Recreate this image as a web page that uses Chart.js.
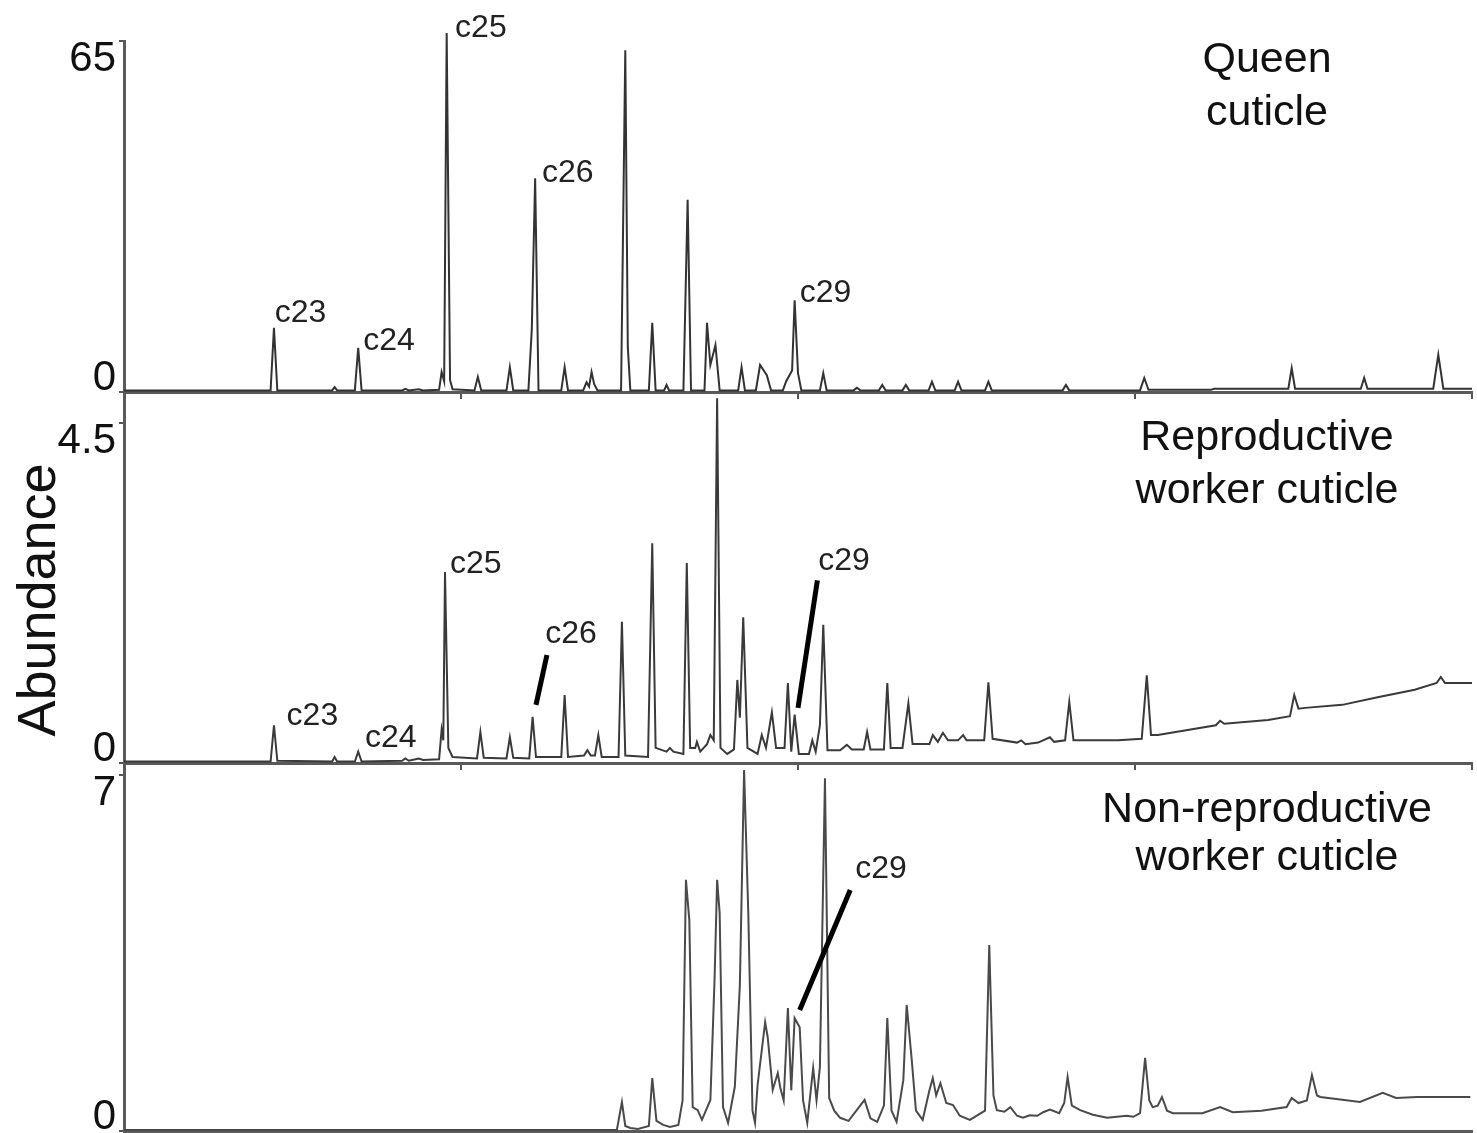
<!DOCTYPE html>
<html>
<head>
<meta charset="utf-8">
<script src="https://cdn.jsdelivr.net/npm/chart.js@4.4.1/dist/chart.umd.min.js"></script>
<style>
  html, body { margin: 0; padding: 0; background: #fff; }
  #fig { position: relative; width: 1477px; height: 1133px; overflow: hidden; background: #fff; }
  #fig canvas { position: absolute; left: 0; }
</style>
</head>
<body>
<div id="fig">
  <canvas id="queen" width="1477" height="402" style="top:0px"></canvas>
  <canvas id="repro" width="1477" height="393" style="top:380px"></canvas>
  <canvas id="nonrepro" width="1477" height="370" style="top:763px"></canvas>
</div>
<script>
// GC traces of cuticular hydrocarbons: [retention time (min), abundance]
const timeTicks = [10, 14, 18, 22, 26];

const queenTicks = [0, 65];
const queenTrace = [
  [10.00, 0.3], [11.74, 0.3], [11.78, 11.9], [11.82, 0.3],
  [12.47, 0.3], [12.50, 0.9], [12.53, 0.3],
  [12.74, 0.3], [12.78, 8.2], [12.82, 0.3],
  [13.30, 0.3], [13.34, 0.6], [13.38, 0.3], [13.50, 0.5], [13.55, 0.3],
  [13.74, 0.4], [13.77, 3.7], [13.80, 2.0], [13.83, 66.5], [13.87, 2.2], [13.90, 0.5],
  [14.16, 0.3], [14.20, 2.8], [14.24, 0.3],
  [14.54, 0.3], [14.58, 4.6], [14.62, 0.3],
  [14.80, 0.3], [14.84, 11.5], [14.88, 39.6], [14.92, 0.3],
  [15.19, 0.3], [15.23, 4.6], [15.27, 0.3],
  [15.45, 0.3], [15.49, 1.8], [15.52, 1.0], [15.55, 3.7], [15.58, 1.5], [15.62, 0.3],
  [15.90, 0.3], [15.95, 63.3], [15.98, 8.3], [16.01, 0.3],
  [16.23, 0.3], [16.27, 12.8], [16.31, 0.3],
  [16.41, 0.3], [16.44, 1.3], [16.47, 0.3],
  [16.64, 0.3], [16.69, 35.6], [16.73, 0.3],
  [16.89, 0.3], [16.92, 12.8], [16.96, 5.0], [17.02, 8.7], [17.07, 0.3],
  [17.29, 0.3], [17.33, 4.6], [17.37, 0.3],
  [17.50, 0.3], [17.55, 5.0], [17.63, 3.1], [17.68, 0.3],
  [17.82, 0.3], [17.86, 2.0], [17.93, 4.0], [17.96, 17.0], [18.00, 3.5], [18.04, 0.3],
  [18.26, 0.3], [18.30, 3.5], [18.34, 0.3],
  [18.66, 0.3], [18.70, 0.8], [18.74, 0.3],
  [18.96, 0.3], [19.00, 1.3], [19.04, 0.3],
  [19.24, 0.3], [19.28, 1.3], [19.32, 0.3],
  [19.55, 0.3], [19.59, 1.9], [19.63, 0.3],
  [19.86, 0.3], [19.90, 1.9], [19.94, 0.3],
  [20.22, 0.3], [20.26, 1.9], [20.30, 0.3],
  [21.14, 0.3], [21.18, 1.3], [21.22, 0.3],
  [22.06, 0.3], [22.11, 2.6], [22.16, 0.4],
  [22.90, 0.4], [22.94, 0.6],
  [23.82, 0.6], [23.86, 4.4], [23.90, 0.6],
  [24.68, 0.6], [24.72, 2.6], [24.76, 0.6],
  [25.54, 0.6], [25.60, 6.9], [25.66, 0.6],
  [26.00, 0.6]
];
const queenLabels = [
  ['c23', 11.79, 12.96], ['c24', 12.84, 7.78], ['c25', 13.93, 65.74],
  ['c26', 14.96, 38.89], ['c29', 18.02, 16.67]
];

const reproTicks = [0, 4.5];
const reproTrace = [
  [10.00, 0.02], [11.74, 0.02], [11.78, 0.50], [11.82, 0.03],
  [12.47, 0.02], [12.50, 0.08], [12.53, 0.02],
  [12.74, 0.02], [12.78, 0.15], [12.82, 0.02],
  [13.30, 0.03], [13.34, 0.06], [13.38, 0.03], [13.50, 0.06], [13.55, 0.04],
  [13.74, 0.05], [13.77, 0.44], [13.79, 0.30], [13.81, 2.53], [13.85, 0.20], [13.90, 0.08],
  [14.19, 0.06], [14.23, 0.41], [14.27, 0.07],
  [14.54, 0.06], [14.58, 0.34], [14.62, 0.07],
  [14.81, 0.06], [14.85, 0.61], [14.89, 0.08],
  [15.19, 0.08], [15.23, 0.90], [15.27, 0.08],
  [15.46, 0.10], [15.50, 0.17], [15.54, 0.10],
  [15.59, 0.10], [15.63, 0.37], [15.67, 0.08],
  [15.87, 0.08], [15.91, 1.87], [15.95, 0.10],
  [16.22, 0.08], [16.27, 2.91], [16.31, 0.20],
  [16.44, 0.15], [16.48, 0.20], [16.52, 0.15],
  [16.64, 0.12], [16.68, 2.65], [16.72, 0.20],
  [16.78, 0.20], [16.80, 0.28], [16.84, 0.15],
  [16.92, 0.25], [16.96, 0.37], [17.00, 0.30], [17.04, 4.83], [17.08, 0.20], [17.16, 0.12],
  [17.24, 0.18], [17.28, 1.10], [17.31, 0.60], [17.35, 1.93], [17.40, 0.20],
  [17.52, 0.12], [17.57, 0.37], [17.62, 0.20], [17.69, 0.67], [17.74, 0.20],
  [17.84, 0.20], [17.88, 1.06], [17.92, 0.15], [17.96, 0.64], [18.01, 0.12],
  [18.13, 0.12], [18.17, 0.30], [18.21, 0.15],
  [18.26, 0.50], [18.30, 1.83], [18.35, 0.17],
  [18.50, 0.17], [18.58, 0.24], [18.64, 0.18],
  [18.78, 0.18], [18.82, 0.41], [18.86, 0.18],
  [19.02, 0.18], [19.06, 1.06], [19.10, 0.20],
  [19.24, 0.20], [19.31, 0.79], [19.36, 0.25],
  [19.56, 0.25], [19.60, 0.37], [19.66, 0.28], [19.72, 0.40], [19.78, 0.30],
  [19.90, 0.30], [19.96, 0.37], [20.00, 0.30],
  [20.21, 0.30], [20.26, 1.07], [20.31, 0.32],
  [20.60, 0.27], [20.65, 0.30], [20.70, 0.25], [20.85, 0.27], [20.99, 0.34], [21.04, 0.28],
  [21.17, 0.30], [21.22, 0.81], [21.27, 0.30],
  [21.80, 0.30], [22.08, 0.32], [22.14, 1.16], [22.19, 0.37], [22.27, 0.37],
  [22.96, 0.50], [23.01, 0.56], [23.06, 0.52], [23.58, 0.57], [23.84, 0.62],
  [23.89, 0.90], [23.94, 0.72], [24.02, 0.73], [24.46, 0.77], [24.88, 0.87],
  [25.32, 0.97], [25.58, 1.06], [25.63, 1.14], [25.68, 1.06], [25.76, 1.06], [26.00, 1.06]
];
const reproLabels = [
  ['c23', 11.93, 0.50], ['c24', 12.86, 0.21], ['c25', 13.87, 2.51],
  ['c26', 15.00, 1.59], ['c29', 18.24, 2.55]
];
// leader lines: [t1, v1, t2, v2]
const reproLeaders = [[15.02, 1.43, 14.89, 0.77], [18.23, 2.42, 18.00, 0.73]];

const nonReproTicks = [0, 7];
const nonReproTrace = [
  [10.00, 0.02], [15.85, 0.02], [15.91, 0.57], [15.95, 0.10], [16.01, 0.06], [16.10, 0.04],
  [16.23, 0.10], [16.27, 1.04], [16.32, 0.20], [16.40, 0.12], [16.48, 0.08], [16.58, 0.12],
  [16.63, 0.60], [16.67, 4.94], [16.71, 4.15], [16.75, 0.47], [16.81, 0.41], [16.86, 0.22], [16.96, 0.61],
  [17.01, 3.00], [17.04, 4.94], [17.07, 4.29], [17.11, 0.47], [17.17, 0.16], [17.25, 0.87],
  [17.31, 2.87], [17.36, 7.10], [17.41, 4.29], [17.46, 0.40], [17.49, 0.16], [17.52, 0.90],
  [17.61, 2.14], [17.64, 1.85], [17.70, 0.81], [17.76, 1.14], [17.79, 0.85], [17.83, 0.60],
  [17.88, 2.42], [17.92, 0.80], [17.96, 2.22], [18.02, 2.04], [18.06, 0.60], [18.11, 0.16],
  [18.18, 1.24], [18.22, 0.60], [18.26, 1.26], [18.32, 6.94], [18.37, 0.65], [18.43, 0.40], [18.50, 0.26],
  [18.60, 0.20], [18.79, 0.61], [18.86, 0.25], [18.94, 0.18],
  [19.02, 0.50], [19.06, 2.22], [19.11, 0.40], [19.17, 0.18],
  [19.25, 1.00], [19.29, 2.48], [19.35, 1.40], [19.40, 0.40], [19.48, 0.22],
  [19.56, 0.80], [19.60, 1.04], [19.64, 0.70], [19.69, 0.94], [19.76, 0.55], [19.84, 0.51],
  [19.92, 0.30], [20.04, 0.22],
  [20.22, 0.40], [20.27, 3.66], [20.32, 0.70], [20.36, 0.41], [20.45, 0.38], [20.52, 0.47],
  [20.60, 0.30], [20.67, 0.26], [20.75, 0.31], [20.84, 0.30], [20.91, 0.37], [20.99, 0.42], [21.10, 0.35],
  [21.16, 0.55], [21.20, 1.06], [21.25, 0.50], [21.35, 0.41], [21.50, 0.32], [21.67, 0.26],
  [21.90, 0.30], [21.98, 0.28],
  [22.06, 0.35], [22.12, 1.44], [22.17, 0.60], [22.21, 0.47], [22.27, 0.50], [22.32, 0.67],
  [22.38, 0.40], [22.45, 0.35], [22.80, 0.35], [23.01, 0.47], [23.16, 0.37], [23.50, 0.40],
  [23.80, 0.47], [23.86, 0.65], [23.94, 0.55], [24.04, 0.60], [24.10, 1.10], [24.16, 0.70],
  [24.20, 0.67], [24.67, 0.57], [24.94, 0.75], [25.10, 0.65], [25.35, 0.67], [25.98, 0.67]
];
const nonReproLabels = [['c29', 18.68, 4.97]];
const nonReproLeaders = [[18.62, 4.74, 18.02, 2.38]];

const FONT = '"Liberation Sans", Arial, Helvetica, sans-serif';

// draws tick labels, peak labels, leader lines and the panel captions
const panelText = {
  id: 'panelText',
  afterDatasetsDraw(chart, args, o) {
    const { ctx, chartArea: a, scales: { x, y } } = chart;
    ctx.save();
    ctx.fillStyle = '#111';

    // y tick labels: max hangs below its tick, zero sits on the baseline
    ctx.font = '42px ' + FONT;
    ctx.textAlign = 'right';
    ctx.textBaseline = 'alphabetic';
    o.yTicks.forEach(v => {
      const py = y.getPixelForValue(v);
      ctx.fillText(String(v), a.left - 8, v === 0 ? py - 2 : py + 30);
    });

    // leader lines
    ctx.strokeStyle = '#000';
    ctx.lineWidth = 5;
    (o.leaders || []).forEach(l => {
      ctx.beginPath();
      ctx.moveTo(x.getPixelForValue(l[0]), y.getPixelForValue(l[1]));
      ctx.lineTo(x.getPixelForValue(l[2]), y.getPixelForValue(l[3]));
      ctx.stroke();
    });

    // peak labels
    ctx.fillStyle = '#222';
    ctx.font = '32px ' + FONT;
    ctx.textAlign = 'left';
    o.peakLabels.forEach(p => {
      ctx.fillText(p[0], x.getPixelForValue(p[1]), y.getPixelForValue(p[2]));
    });

    // caption
    ctx.fillStyle = '#111';
    ctx.font = '43px ' + FONT;
    ctx.textAlign = 'center';
    o.caption.forEach((line, i) => {
      ctx.fillText(line, a.right - 205, a.top + o.captionTop + i * o.captionStep);
    });

    if (o.yTitle) {
      ctx.translate(55, a.top + o.yTitleOffset);
      ctx.rotate(-Math.PI / 2);
      ctx.font = '54px ' + FONT;
      ctx.textAlign = 'center';
      ctx.fillText(o.yTitle, 0, 0);
    }
    ctx.restore();
  }
};

function makePanel(id, trace, opts) {
  return new Chart(document.getElementById(id), {
    type: 'line',
    data: {
      datasets: [{
        data: trace.map(p => ({ x: p[0], y: p[1] })),
        borderColor: opts.color,
        borderWidth: 2,
        pointRadius: 0,
        tension: 0,
        clip: false
      }]
    },
    options: {
      responsive: false,
      animation: false,
      devicePixelRatio: 1,
      events: [],
      layout: { padding: { top: opts.padTop, right: 5, bottom: 0, left: 0 } },
      plugins: {
        legend: { display: false },
        tooltip: { enabled: false },
        panelText: opts
      },
      scales: {
        x: {
          type: 'linear', min: 10, max: 26,
          afterBuildTicks: s => { s.ticks = timeTicks.map(v => ({ value: v })); },
          afterFit: s => { s.height = opts.xHeight; },
          ticks: { display: false },
          grid: { drawOnChartArea: false, tickLength: 7, color: '#555', lineWidth: 2 },
          border: { color: '#5a5a5a', width: 3 }
        },
        y: {
          type: 'linear', min: 0, max: opts.yMax,
          afterBuildTicks: s => { s.ticks = opts.yTicks.map(v => ({ value: v })); },
          afterFit: s => { s.width = 124; },
          ticks: { display: false },
          grid: { drawOnChartArea: false, tickLength: 5, color: '#555', lineWidth: 2 },
          border: { color: '#5a5a5a', width: 3 }
        }
      }
    },
    plugins: [panelText]
  });
}

makePanel('queen', queenTrace, {
  color: '#333', padTop: 41, xHeight: 10, yMax: 65, yTicks: queenTicks,
  peakLabels: queenLabels, leaders: [],
  caption: ['Queen', 'cuticle'], captionTop: 31, captionStep: 53
});

makePanel('repro', reproTrace, {
  color: '#3a3a3a', padTop: 13, xHeight: 10, yMax: 4.9, yTicks: reproTicks,
  peakLabels: reproLabels, leaders: reproLeaders,
  caption: ['Reproductive', 'worker cuticle'], captionTop: 57, captionStep: 53,
  yTitle: 'Abundance', yTitleOffset: 207
});

makePanel('nonrepro', nonReproTrace, {
  color: '#4a4a4a', padTop: 2, xHeight: 2, yMax: 7.2, yTicks: nonReproTicks,
  peakLabels: nonReproLabels, leaders: nonReproLeaders,
  caption: ['Non-reproductive', 'worker cuticle'], captionTop: 57, captionStep: 48
});
</script>
</body>
</html>
